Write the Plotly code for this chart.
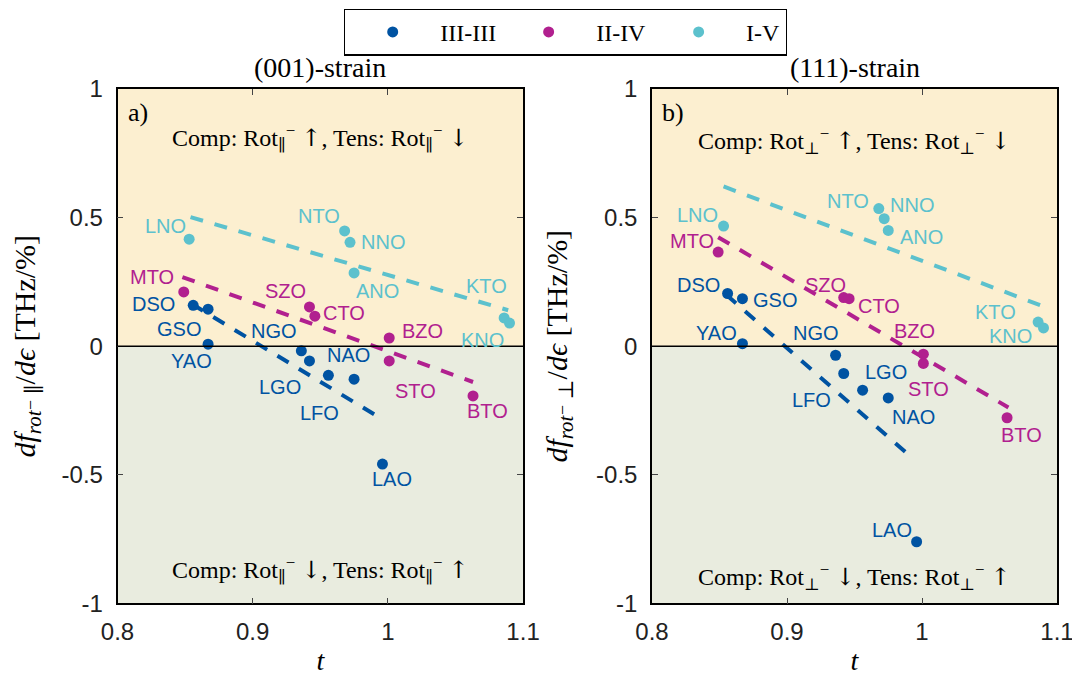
import plotly.graph_objects as go

# ---------------- data ----------------
materials = ["LNO", "NTO", "NNO", "ANO", "KTO", "KNO",
             "MTO", "SZO", "CTO", "BZO", "STO", "BTO",
             "DSO", "GSO", "YAO", "NGO", "LGO", "LFO", "NAO", "LAO"]
groups = ["I-V"] * 6 + ["II-IV"] * 6 + ["III-III"] * 8
t_factor = [0.853, 0.968, 0.972, 0.975, 1.086, 1.090,
            0.849, 0.942, 0.946, 1.001, 1.001, 1.063,
            0.856, 0.867, 0.867, 0.936, 0.942, 0.956, 0.975, 0.996]
dfde_001 = [0.416, 0.448, 0.404, 0.285, 0.110, 0.090,
            0.211, 0.153, 0.117, 0.032, -0.057, -0.193,
            0.159, 0.144, 0.008, -0.018, -0.057, -0.113, -0.128, -0.458]
dfde_111 = [0.467, 0.535, 0.496, 0.450, 0.094, 0.071,
            0.366, 0.189, 0.185, -0.031, -0.067, -0.278,
            0.205, 0.185, 0.010, -0.035, -0.106, -0.171, -0.201, -0.760]

# linear fits (end points) per group
fit_groups = ["III-III", "II-IV", "I-V"]
fit_t0 = [0.855, 0.848, 0.854]
fit_t1 = [0.995, 1.063, 1.089]
fit001_y0 = [0.164, 0.269, 0.502]
fit001_y1 = [-0.281, -0.139, 0.140]
fit111_t0 = [0.855, 0.849, 0.853]
fit111_t1 = [0.994, 1.064, 1.090]
fit111_y0 = [0.200, 0.424, 0.621]
fit111_y1 = [-0.440, -0.238, 0.155]

legend_order = ["III-III", "II-IV", "I-V"]
x_ticks = [0.8, 0.9, 1.0, 1.1]
x_ticktext = ["0.8", "0.9", "1", "1.1"]
y_ticks = [-1, -0.5, 0, 0.5, 1]
y_ticktext = ["-1", "-0.5", "0", "0.5", "1"]

# ---------------- styles ----------------
colors = {"III-III": "#0053A2", "II-IV": "#B1208F", "I-V": "#5CC1CD"}
upper_bg = "#FCEFD0"
lower_bg = "#E9ECDF"
serif = "Liberation Serif, DejaVu Serif, serif"
sans = "Liberation Sans, Arial, sans-serif"
UP = '<span style="font-family:DejaVu Serif">↑</span>'
DOWN = '<span style="font-family:DejaVu Serif">↓</span>'

# label offsets in pixels (dx, dy up)
offs_a = {"LNO": (-24, 13), "NTO": (-26, 15), "NNO": (33, 0), "ANO": (23, -18),
          "KTO": (-18, 32), "KNO": (-27, -17), "MTO": (-32, 15), "SZO": (-24, 16),
          "CTO": (29, 3), "BZO": (33, 7), "STO": (26, -30), "BTO": (14, -15),
          "DSO": (-40, 1), "GSO": (-29, -20), "YAO": (-17, -17), "NGO": (-27, 20),
          "LGO": (-29, -26), "LFO": (-9, -38), "NAO": (-6, 24), "LAO": (10, -15)}
offs_b = {"LNO": (-26, 11), "NTO": (-31, 8), "NNO": (28, 14), "ANO": (33, -7),
          "KTO": (-43, 10), "KNO": (-33, -8), "MTO": (-26, 11), "SZO": (-18, 13),
          "CTO": (30, -7), "BZO": (-9, 23), "STO": (5, -26), "BTO": (14, -17),
          "DSO": (-29, 9), "GSO": (33, -1), "YAO": (-26, 11), "NGO": (-20, 22),
          "LGO": (42, 2), "LFO": (-51, -10), "NAO": (25, -19), "LAO": (-25, 12)}

fig = go.Figure()

panels = [
    ("x", "y", dfde_001, fit_t0, fit_t1, fit001_y0, fit001_y1, offs_a, True),
    ("x2", "y2", dfde_111, fit111_t0, fit111_t1, fit111_y0, fit111_y1, offs_b, False),
]

annotations = []
for xa, ya, vals, ft0, ft1, fy0, fy1, offs, show_leg in panels:
    for i, g in enumerate(fit_groups):
        fig.add_trace(go.Scatter(
            x=[ft0[i], ft1[i]], y=[fy0[i], fy1[i]], mode="lines",
            line=dict(color=colors[g], width=4, dash="13px,12px"),
            xaxis=xa, yaxis=ya, showlegend=False, hoverinfo="skip"))
    for g in legend_order:
        idx = [k for k, gg in enumerate(groups) if gg == g]
        fig.add_trace(go.Scatter(
            x=[t_factor[k] for k in idx], y=[vals[k] for k in idx],
            mode="markers", name=g,
            marker=dict(color=colors[g], size=11, line=dict(width=0)),
            xaxis=xa, yaxis=ya, showlegend=show_leg,
            text=[materials[k] for k in idx]))
    for k, m in enumerate(materials):
        dx, dy = offs[m]
        annotations.append(dict(
            x=t_factor[k], y=vals[k], xref=xa, yref=ya, text=m, showarrow=False,
            xanchor="center", yanchor="middle",
            xshift=dx, yshift=dy, font=dict(family=sans, size=20, color=colors[groups[k]])))

shapes = []
for xa, ya in [("x", "y"), ("x2", "y2")]:
    shapes.append(dict(type="rect", xref=xa + " domain", yref=ya, x0=0, x1=1, y0=0, y1=1,
                       fillcolor=upper_bg, line=dict(width=0), layer="below"))
    shapes.append(dict(type="rect", xref=xa + " domain", yref=ya, x0=0, x1=1, y0=-1, y1=0,
                       fillcolor=lower_bg, line=dict(width=0), layer="below"))
    shapes.append(dict(type="line", xref=xa + " domain", yref=ya, x0=0, x1=1, y0=0, y1=0,
                       line=dict(color="black", width=1.5), layer="above"))

panel_info = [
    ("x", "y", "(001)-strain", "a)", "∥", 0.905, 0.065),
    ("x2", "y2", "(111)-strain", "b)", "⊥", 0.898, 0.052),
]
for xa, ya, title, tag, sym, ytop, ybot in panel_info:
    annotations.append(dict(xref=xa + " domain", yref="paper", x=0.5, y=0.9137,
                            xanchor="center", yanchor="middle",
                            text=title, showarrow=False,
                            font=dict(family=serif, size=28, color="black")))
    annotations.append(dict(xref=xa + " domain", yref=ya + " domain", x=0.02, y=0.955,
                            xanchor="left", yanchor="middle", text=tag, showarrow=False,
                            font=dict(family=serif, size=26, color="black")))
    annotations.append(dict(xref=xa + " domain", yref=ya + " domain", x=0.5, y=ytop,
                            xanchor="center", yanchor="middle",
                            text=f"Comp: Rot<sub>{sym}</sub><sup>−</sup> {UP}, Tens: Rot<sub>{sym}</sub><sup>−</sup> {DOWN}",
                            showarrow=False, font=dict(family=serif, size=24, color="black")))
    annotations.append(dict(xref=xa + " domain", yref=ya + " domain", x=0.5, y=ybot,
                            xanchor="center", yanchor="middle",
                            text=f"Comp: Rot<sub>{sym}</sub><sup>−</sup> {DOWN}, Tens: Rot<sub>{sym}</sub><sup>−</sup> {UP}",
                            showarrow=False, font=dict(family=serif, size=24, color="black")))

axis_common = dict(showline=True, linecolor="black", linewidth=1.5, mirror="ticks",
                   ticks="inside", ticklen=6, tickcolor="#444", tickwidth=1,
                   showgrid=False, zeroline=False, automargin=False)

xcommon = dict(axis_common, range=[0.8, 1.1], tickvals=x_ticks, ticktext=x_ticktext,
               tickfont=dict(family=sans, size=24, color="#222"),
               title=dict(text="<i>t</i>", font=dict(family=serif, size=28, color="black"), standoff=6),
               ticklabelstandoff=6)
ycommon = dict(axis_common, range=[-1, 1], tickvals=y_ticks, ticktext=y_ticktext,
               tickfont=dict(family=sans, size=24, color="#222"),
               ticklabelstandoff=8)

ytitle = "<i>df</i><sub><i>rot</i>⁻ {s}</sub>/<i>dϵ</i> [THz/%]"

fig.update_layout(
    width=1080, height=684,
    margin=dict(l=0, r=0, t=0, b=0, autoexpand=False),
    paper_bgcolor="white", plot_bgcolor="white",
    xaxis=dict(xcommon, domain=[0.1014, 0.4769], anchor="y"),
    xaxis2=dict(xcommon, domain=[0.5963, 0.9713], anchor="y2"),
    yaxis=dict(ycommon, domain=[0.1294, 0.8816], anchor="x",
               title=dict(text=ytitle.format(s="∥"),
                          font=dict(family=serif, size=30, color="black"), standoff=20)),
    yaxis2=dict(ycommon, domain=[0.1294, 0.8816], anchor="x2",
                title=dict(text=ytitle.format(s="⊥"),
                           font=dict(family=serif, size=30, color="black"), standoff=20)),
    legend=dict(orientation="h", x=0.5162, xanchor="center", y=0.999, yanchor="top",
                bordercolor="black", borderwidth=1.2, bgcolor="white",
                font=dict(family=serif, size=24, color="black"), itemwidth=85),
    shapes=shapes,
    annotations=annotations,
)

fig.write_html("out.html")
